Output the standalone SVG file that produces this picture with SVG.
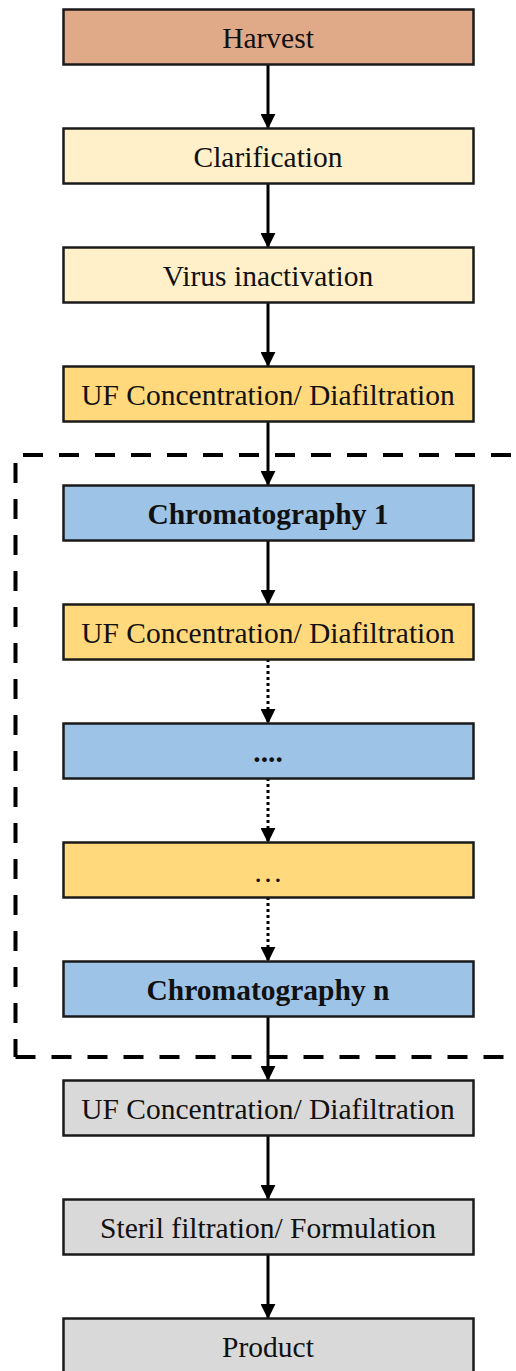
<svg xmlns="http://www.w3.org/2000/svg" width="516" height="1371" viewBox="0 0 516 1371">
<style>
.box{stroke:#1a1a1a;stroke-width:2.5}
.t{font-family:"Liberation Serif","Times New Roman",serif;font-size:29.5px;fill:#111;text-anchor:middle}
.b{font-weight:bold}
.c{stroke:#000;stroke-width:3;fill:none}
.dot{stroke-dasharray:3 3}
.frame{stroke:#000;stroke-width:4;fill:none;stroke-dasharray:20 16}
.harvest{fill:#E0A987}
.cream{fill:#FFF0C9}
.yellow{fill:#FFD97C}
.blue{fill:#9DC3E6}
.gray{fill:#D9D9D9}
</style>
<defs>
<marker id="ah" markerWidth="5" markerHeight="5" refX="4.7" refY="2.5" orient="auto" markerUnits="strokeWidth" viewBox="0 0 5 5">
<path d="M0,0 L5,2.5 L0,5 Z" fill="#000"/>
</marker>
</defs>
<g id="frame">
<path class="frame" d="M23 455 H516"/>
<path class="frame" d="M15.5 463 V1057"/>
<path class="frame" d="M15.5 1057 H516"/>
</g>
<g id="connectors">
<line class="c" x1="268" y1="64" x2="268" y2="128" marker-end="url(#ah)"/>
<line class="c" x1="268" y1="183" x2="268" y2="247" marker-end="url(#ah)"/>
<line class="c" x1="268" y1="302" x2="268" y2="366" marker-end="url(#ah)"/>
<line class="c" x1="268" y1="421" x2="268" y2="485" marker-end="url(#ah)"/>
<line class="c" x1="268" y1="540" x2="268" y2="604" marker-end="url(#ah)"/>
<line class="c dot" x1="268" y1="659" x2="268" y2="723" marker-end="url(#ah)"/>
<line class="c dot" x1="268" y1="778" x2="268" y2="842" marker-end="url(#ah)"/>
<line class="c dot" x1="268" y1="897" x2="268" y2="961" marker-end="url(#ah)"/>
<line class="c" x1="268" y1="1016" x2="268" y2="1080" marker-end="url(#ah)"/>
<line class="c" x1="268" y1="1135" x2="268" y2="1199" marker-end="url(#ah)"/>
<line class="c" x1="268" y1="1254" x2="268" y2="1318" marker-end="url(#ah)"/>
</g>
<g id="harvest"><rect class="box harvest" x="63.5" y="9.5" width="410" height="55"/><text class="t" x="268" y="48">Harvest</text></g>
<g id="clarification"><rect class="box cream" x="63.5" y="128.5" width="410" height="55"/><text class="t" x="268" y="167">Clarification</text></g>
<g id="virus"><rect class="box cream" x="63.5" y="247.5" width="410" height="55"/><text class="t" x="268" y="286">Virus inactivation</text></g>
<g id="uf1"><rect class="box yellow" x="63.5" y="366.5" width="410" height="55"/><text class="t" x="268" y="405">UF Concentration/ Diafiltration</text></g>
<g id="chrom1"><rect class="box blue" x="63.5" y="485.5" width="410" height="55"/><text class="t b" x="268" y="524">Chromatography 1</text></g>
<g id="uf2"><rect class="box yellow" x="63.5" y="604.5" width="410" height="55"/><text class="t" x="268" y="643">UF Concentration/ Diafiltration</text></g>
<g id="chromdots"><rect class="box blue" x="63.5" y="723.5" width="410" height="55"/><text class="t b" x="268" y="762">....</text></g>
<g id="ufdots"><rect class="box yellow" x="63.5" y="842.5" width="410" height="55"/><text class="t" x="268" y="882">…</text></g>
<g id="chromn"><rect class="box blue" x="63.5" y="961.5" width="410" height="55"/><text class="t b" x="268" y="1000">Chromatography n</text></g>
<g id="uf3"><rect class="box gray" x="63.5" y="1080.5" width="410" height="55"/><text class="t" x="268" y="1119">UF Concentration/ Diafiltration</text></g>
<g id="steril"><rect class="box gray" x="63.5" y="1199.5" width="410" height="55"/><text class="t" x="268" y="1238">Steril filtration/ Formulation</text></g>
<g id="product"><rect class="box gray" x="63.5" y="1318.5" width="410" height="55"/><text class="t" x="268" y="1357">Product</text></g>
</svg>
